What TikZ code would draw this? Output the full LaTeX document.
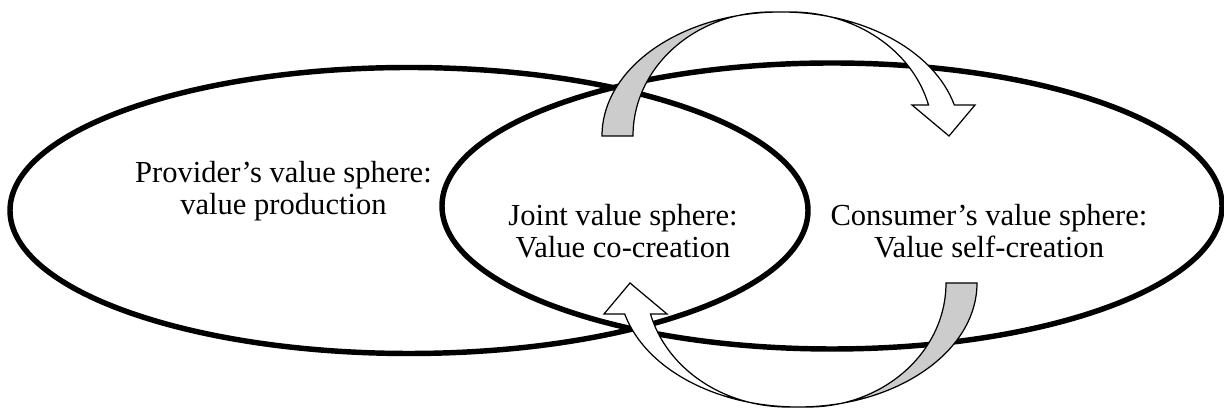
\documentclass[tikz,border=0pt]{standalone}
\usepackage{fontspec}
\setmainfont{Liberation Serif}
\definecolor{ink}{HTML}{000000}
\definecolor{backface}{HTML}{CCCCCC}
\tikzset{
  sphere/.style={draw=ink, line width=3.1pt},
  spheretext/.style={font=\fontsize{17.4}{18.2}\selectfont, align=center, text=ink, inner sep=0pt},
  ribbon/.style={draw=ink, line width=0.7pt, line join=miter},
  outerarc/.style={x radius=179, y radius=124},
  backarc/.style={x radius=138, y radius=124},
  frontarc/.style={x radius=142, y radius=124},
}

\begin{document}
\begin{tikzpicture}[x=0.02cm,y=0.02cm]
\useasboundingbox (0,0) rectangle (1224,411);

% ---------- value spheres
\draw[sphere] (409,200.5) ellipse[x radius=399, y radius=143];
\draw[sphere] (832,205) ellipse[x radius=390, y radius=143];

\node[spheretext] (provider) at (283.5,220) {Provider’s value sphere:\\value production};
\node[spheretext] (joint)    at (623,180)   {Joint value sphere:\\Value co-creation};
\node[spheretext] (consumer) at (989,180)   {Consumer’s value sphere:\\Value self-creation};

% ---------- curved arrows (the lower one is the upper one turned half round)
\coordinate (pivot) at (789.5,201.5);
\foreach \ang in {0,180} {
  \begin{scope}[rotate around={\ang:(pivot)}]
    % back face
    \filldraw[ribbon, fill=backface] (602,275) arc[outerarc, start angle=180, end angle=90]
      -- (771,399) arc[backarc, start angle=90, end angle=180] -- cycle;
    % front face and head
    \filldraw[ribbon, fill=white] (781,399) arc[outerarc, start angle=90, end angle=14.5]
      -- (975,306) -- (949,275) -- (912,306) -- (928.5,306.05)
      arc[frontarc, start angle=14.5, end angle=90] -- cycle;
  \end{scope}
}

\end{tikzpicture}
\end{document}
